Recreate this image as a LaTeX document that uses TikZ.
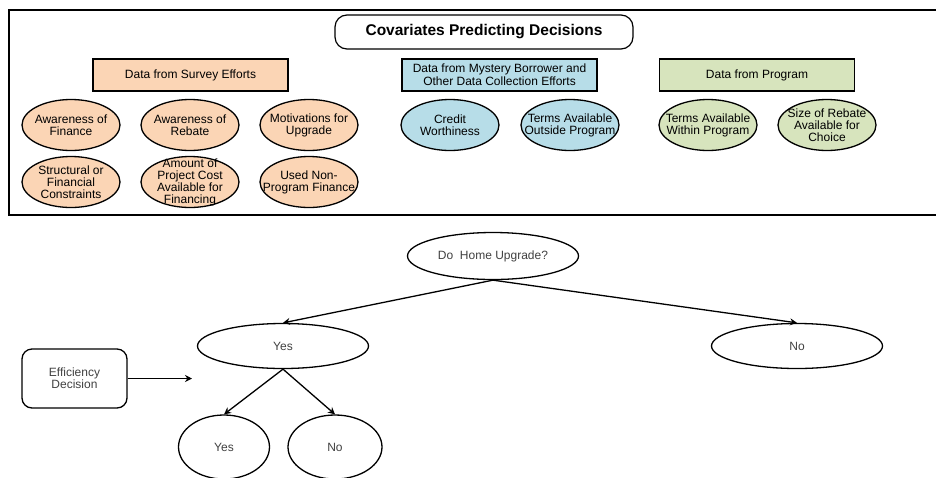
\documentclass[tikz,border=0pt]{standalone}
\usepackage{fontspec}
\setmainfont{Liberation Sans}
\usetikzlibrary{shapes.geometric,arrows.meta}
\definecolor{peach}{HTML}{FBD5B5}
\definecolor{paleblue}{HTML}{B7DDE8}
\definecolor{palegreen}{HTML}{D7E4BD}
\definecolor{treetext}{HTML}{404040}

\tikzset{
    title box/.style={rectangle,rounded corners=12pt,draw,line width=1.2pt,minimum width=298,minimum height=34,font=\fontsize{15.5}{17}\selectfont\bfseries},
    source box/.style={rectangle,draw,line width=1.4pt,minimum width=195,minimum height=32,align=center,font=\fontsize{12}{13}\selectfont},
    cov node/.style={ellipse,draw,line width=1.3pt,minimum width=98,minimum height=51,inner sep=0},
    lbl/.style={align=center,font=\fontsize{12}{12}\selectfont},
    choice node/.style={ellipse,draw,line width=1.3pt,inner sep=0,text=treetext,font=\fontsize{12}{12}\selectfont},
    side box/.style={rectangle,rounded corners=10pt,draw,line width=1.3pt,minimum width=105,minimum height=59,align=center,text=treetext,font=\fontsize{12}{12}\selectfont},
    arrow/.style={line width=1.3pt,-{Stealth[length=7pt,width=7pt]}}
    }

\begin{document}
\begin{tikzpicture}[x=1pt,y=-1pt]
    \useasboundingbox (0,0) rectangle (936,477);
    % covariates panel
    \draw[line width=2.5pt] (936,10) -- (9,10) -- (9,215) -- (936,215);
    \node(title)[title box] at (484,32) {Covariates Predicting Decisions};
    \node(survey)[source box,fill=peach] at (190.5,75) {Data from Survey Efforts};
    \node(mystery)[source box,fill=paleblue] at (499.5,75) {Data from Mystery Borrower and\\Other Data Collection Efforts};
    \node(program)[source box,fill=palegreen] at (757,75) {Data from Program};
    % survey covariates
    \node(finAware)[cov node,fill=peach,label={[lbl]center:{Awareness of\\Finance}}] at (71,125) {};
    \node(rebAware)[cov node,fill=peach,label={[lbl]center:{Awareness of\\Rebate}}] at (190,125) {};
    \node(motive)[cov node,fill=peach,label={[lbl]center:{Motivations for\\Upgrade}}] at (309,125) {};
    \node(constr)[cov node,fill=peach,label={[lbl]center:{Structural or\\Financial\\Constraints}}] at (71,182) {};
    \node(amount)[cov node,fill=peach,label={[lbl]center:{Amount of\\Project Cost\\Available for\\Financing}}] at (190,182) {};
    \node(nonProg)[cov node,fill=peach,label={[lbl]center:{Used Non-\\Program Finance}}] at (309,182) {};
    % mystery borrower covariates
    \node(credit)[cov node,fill=paleblue,label={[lbl]center:{Credit\\Worthiness}}] at (450,125) {};
    \node(outside)[cov node,fill=paleblue,label={[lbl]center:{Terms Available\\Outside Program}}] at (570,125) {};
    % program covariates
    \node(within)[cov node,fill=palegreen,label={[lbl]center:{Terms Available\\Within Program}}] at (708,125) {};
    \node(rebSize)[cov node,fill=palegreen,label={[lbl]center:{Size of Rebate\\Available for\\Choice}}] at (827,125) {};
    % decision tree
    \node(upgrade)[choice node,minimum width=171,minimum height=47] at (493,256) {Do\ \ Home Upgrade?};
    \node(yes)[choice node,minimum width=171,minimum height=45] at (283,346) {Yes};
    \node(no)[choice node,minimum width=171,minimum height=45] at (797,346) {No};
    \node(effYes)[choice node,minimum width=91,minimum height=64] at (224,447) {Yes};
    \node(effNo)[choice node,minimum width=94,minimum height=64] at (335,447) {No};
    \node(eff)[side box] at (74.5,378.5) {Efficiency\\Decision};
    \coordinate(effEnd) at (192,378.5);
    \draw[arrow] (upgrade.south) -- (yes.north);
    \draw[arrow] (upgrade.south) -- (no.north);
    \draw[arrow] (yes.south) -- (effYes.north);
    \draw[arrow] (yes.south) -- (effNo.north);
    \draw[arrow] (eff.east) -- (effEnd);
\end{tikzpicture}
\end{document}
